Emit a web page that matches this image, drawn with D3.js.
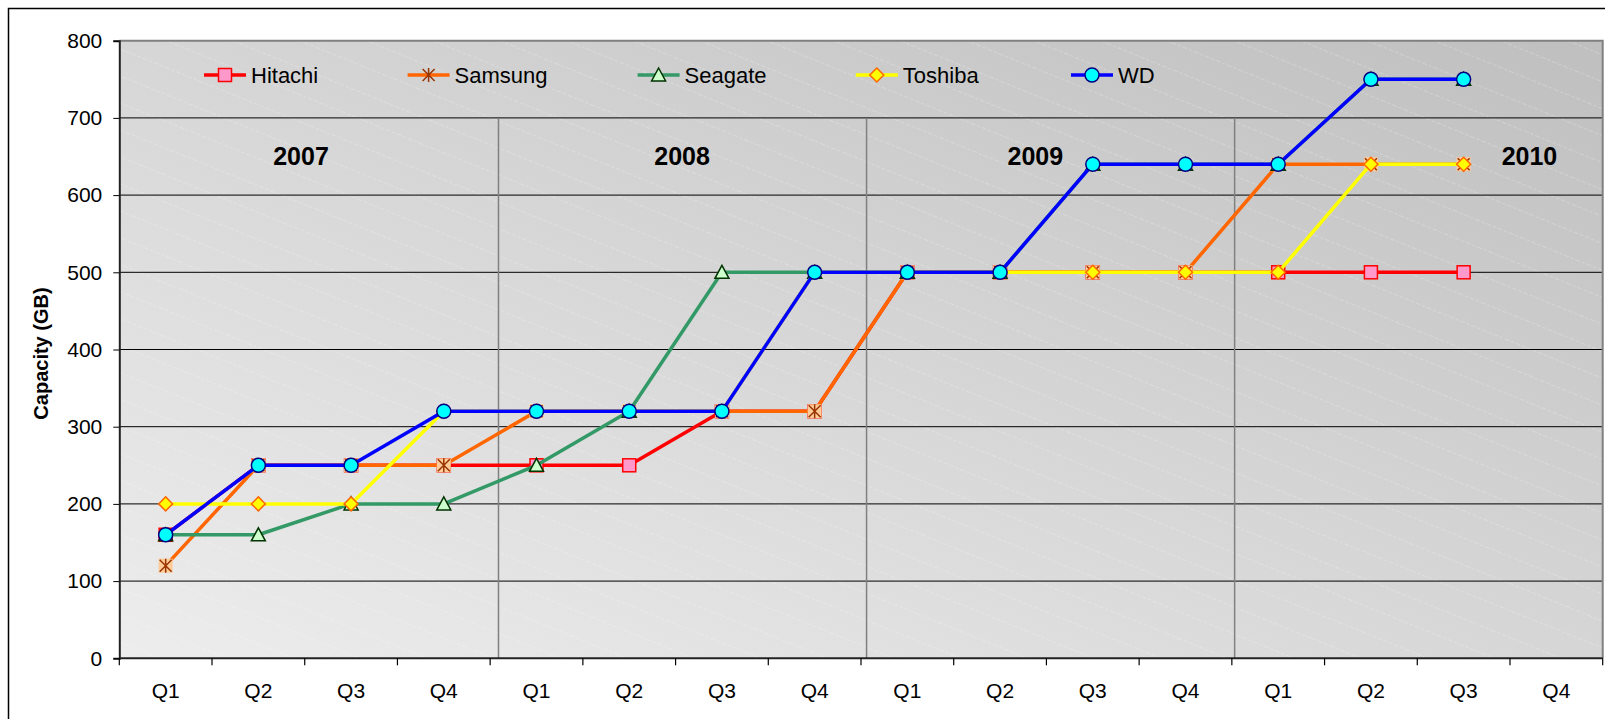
<!DOCTYPE html>
<html>
<head>
<meta charset="utf-8">
<script src="https://cdn.jsdelivr.net/npm/d3@7"></script>
<style>
  body { margin: 0; background: #fff; }
  svg { display: block; font-family: Arial, 'Liberation Sans', sans-serif; }
</style>
</head>
<body>
<svg id="chart" width="1605" height="719"></svg>
<script>
// quarters 2007 Q1 .. 2010 Q4
const quarters = ['Q1', 'Q2', 'Q3', 'Q4', 'Q1', 'Q2', 'Q3', 'Q4', 'Q1', 'Q2', 'Q3', 'Q4', 'Q1', 'Q2', 'Q3', 'Q4'];
const years = ['2007', '2008', '2009', '2010'];
// year label / separator positions in quarter units
const yearLabelAt = [1.96, 6.07, 9.88, 15.21];
const yearBreakAt = [4.09, 8.06, 12.03];
const yTicks = [0, 100, 200, 300, 400, 500, 600, 700, 800];

const hitachi = [160, 250, 250, 250, 250, 250, 320, 320, 500, 500, 500, 500, 500, 500, 500, null];
const samsung = [120, 250, 250, 250, 320, 320, 320, 320, 500, 500, 500, 500, 640, 640, 640, null];
const seagate = [160, 160, 200, 200, 250, 320, 500, 500, 500, 500, 640, 640, 640, 750, 750, null];
const toshiba = [200, 200, 200, 320, 320, 320, 320, 500, 500, 500, 500, 500, 500, 640, 640, null];
const wd = [160, 250, 250, 320, 320, 320, 320, 500, 500, 500, 640, 640, 640, 750, 750, null];

const series = [
  { name: 'Hitachi', values: hitachi, color: '#ff0000', marker: 'square', fill: '#ff99cc', stroke: '#ff0000' },
  { name: 'Samsung', values: samsung, color: '#ff6600', marker: 'star', fill: '#ffcc99', stroke: '#993300' },
  { name: 'Seagate', values: seagate, color: '#339966', marker: 'triangle', fill: '#ccffcc', stroke: '#003300' },
  { name: 'Toshiba', values: toshiba, color: '#ffff00', marker: 'diamond', fill: '#ffff00', stroke: '#ff6600' },
  { name: 'WD', values: wd, color: '#0000ff', marker: 'circle', fill: '#00ffff', stroke: '#000080' }
];

const svg = d3.select('#chart');
const pLeft = 119.3, pRight = 1602.7, pTop = 40.7, pBottom = 658.3;

const x = d3.scaleLinear().domain([0, quarters.length]).range([pLeft, pRight]);
const y = d3.scaleLinear().domain([0, 800]).range([pBottom, pTop]);

// outer chart frame
svg.append('rect')
  .attr('x', 8.5).attr('y', 8.5).attr('width', 1700).attr('height', 800)
  .attr('fill', '#fff').attr('stroke', '#000').attr('stroke-width', 1.5);

const defs = svg.append('defs');
const grad = defs.append('linearGradient').attr('id', 'bg')
  .attr('x1', 0).attr('y1', 1).attr('x2', 1).attr('y2', 0);
grad.append('stop').attr('offset', 0).attr('stop-color', '#ededed');
grad.append('stop').attr('offset', 1).attr('stop-color', '#bfbfbf');

const hatch = defs.append('pattern').attr('id', 'hatch')
  .attr('patternUnits', 'userSpaceOnUse')
  .attr('width', 12).attr('height', 25)
  .attr('patternTransform', 'rotate(22)');
hatch.append('line')
  .attr('x1', 0).attr('y1', 0.5).attr('x2', 12).attr('y2', 0.5)
  .attr('stroke', '#fff').attr('stroke-opacity', 0.28)
  .attr('stroke-width', 0.8)
  .attr('stroke-dasharray', '3,2');

svg.append('rect')
  .attr('x', pLeft).attr('y', pTop).attr('width', pRight - pLeft).attr('height', pBottom - pTop)
  .attr('fill', 'url(#bg)');
svg.append('rect')
  .attr('x', pLeft).attr('y', pTop).attr('width', pRight - pLeft).attr('height', pBottom - pTop)
  .attr('fill', 'url(#hatch)');

// horizontal gridlines
svg.append('g').selectAll('line')
  .data(yTicks.filter(d => d > 0 && d < 800))
  .join('line')
  .attr('x1', pLeft).attr('x2', pRight)
  .attr('y1', d => y(d)).attr('y2', d => y(d))
  .attr('stroke', '#000').attr('stroke-width', 1);

// year separators
svg.append('g').selectAll('line')
  .data(yearBreakAt)
  .join('line')
  .attr('x1', d => x(d)).attr('x2', d => x(d))
  .attr('y1', y(700)).attr('y2', pBottom)
  .attr('stroke', '#808080').attr('stroke-width', 1.5);

// plot border (top/right gray)
svg.append('path')
  .attr('d', `M${pLeft},${pTop}H${pRight}V${pBottom}`)
  .attr('fill', 'none').attr('stroke', '#808080').attr('stroke-width', 2);

// year labels
svg.append('g').selectAll('text')
  .data(years)
  .join('text')
  .attr('x', (d, i) => x(yearLabelAt[i]))
  .attr('y', 165)
  .attr('text-anchor', 'middle')
  .style('font-size', '25px')
  .style('font-weight', 'bold')
  .text(d => d);

// y axis
const yAxis = svg.append('g')
  .attr('transform', `translate(${pLeft},0)`)
  .call(d3.axisLeft(y).tickValues(yTicks).tickSize(6).tickPadding(11));
yAxis.select('.domain').attr('stroke', '#222').attr('stroke-width', 2);
yAxis.selectAll('.tick line').attr('stroke', '#000');
yAxis.selectAll('.tick text')
  .attr('fill', '#000')
  .style('font-size', '21px')
  .style('font-family', 'Arial, "Liberation Sans", sans-serif');

// x axis: ticks at boundaries, labels at centres
const xAxis = svg.append('g').attr('transform', `translate(0,${pBottom})`);
xAxis.append('line')
  .attr('x1', pLeft).attr('x2', pRight).attr('y1', 0).attr('y2', 0)
  .attr('stroke', '#222').attr('stroke-width', 2);
xAxis.selectAll('line.tick')
  .data(d3.range(quarters.length + 1))
  .join('line').attr('class', 'tick')
  .attr('x1', d => x(d)).attr('x2', d => x(d))
  .attr('y1', 0).attr('y2', 7)
  .attr('stroke', '#000').attr('stroke-width', 1.2);
xAxis.selectAll('text')
  .data(quarters)
  .join('text')
  .attr('x', (d, i) => x(i + 0.5))
  .attr('y', 39.5)
  .attr('text-anchor', 'middle')
  .style('font-size', '21px')
  .text(d => d);

// y label
svg.append('text')
  .attr('transform', `translate(48,${(pTop + pBottom) / 2 + 4}) rotate(-90)`)
  .attr('text-anchor', 'middle')
  .style('font-size', '20px')
  .style('font-weight', 'bold')
  .text('Capacity (GB)');

function drawMarker(g, s, cx, cy, legend) {
  if (s.marker === 'square') {
    g.append('rect').attr('x', cx - 6.5).attr('y', cy - 6.5).attr('width', 13).attr('height', 13)
      .attr('fill', s.fill).attr('stroke', s.stroke).attr('stroke-width', 1.5);
  } else if (s.marker === 'star') {
    if (!legend) {
      g.append('rect').attr('x', cx - 7).attr('y', cy - 7).attr('width', 14).attr('height', 14)
        .attr('fill', s.fill);
    }
    g.append('path')
      .attr('d', `M${cx - 6},${cy - 6}L${cx + 6},${cy + 6}M${cx + 6},${cy - 6}L${cx - 6},${cy + 6}M${cx},${cy - 7}V${cy + 7}`)
      .attr('stroke', s.stroke).attr('stroke-width', 1.5).attr('fill', 'none');
  } else if (s.marker === 'triangle') {
    g.append('path')
      .attr('d', `M${cx},${cy - 7}L${cx + 7},${cy + 6}L${cx - 7},${cy + 6}Z`)
      .attr('fill', s.fill).attr('stroke', s.stroke).attr('stroke-width', 1.5);
  } else if (s.marker === 'diamond') {
    g.append('path')
      .attr('d', `M${cx},${cy - 7}L${cx + 7},${cy}L${cx},${cy + 7}L${cx - 7},${cy}Z`)
      .attr('fill', s.fill).attr('stroke', s.stroke).attr('stroke-width', 1.5);
  } else {
    g.append('circle').attr('cx', cx).attr('cy', cy).attr('r', 7)
      .attr('fill', s.fill).attr('stroke', s.stroke).attr('stroke-width', 1.5);
  }
}

const line = d3.line()
  .defined(d => d != null)
  .x((d, i) => x(i + 0.5))
  .y(d => y(d));

series.forEach(s => {
  const g = svg.append('g');
  g.append('path')
    .attr('d', line(s.values))
    .attr('fill', 'none')
    .attr('stroke', s.color)
    .attr('stroke-width', 3.5)
    .attr('stroke-linejoin', 'round');
  s.values.forEach((v, i) => {
    if (v != null) drawMarker(g, s, x(i + 0.5), y(v), false);
  });
});

// legend
const legendX = [225, 428.6, 658.6, 876.8, 1092];
const legendY = 75;
series.forEach((s, i) => {
  const g = svg.append('g');
  const cx = legendX[i];
  g.append('line')
    .attr('x1', cx - 21).attr('x2', cx + 21).attr('y1', legendY).attr('y2', legendY)
    .attr('stroke', s.color).attr('stroke-width', 3.5);
  drawMarker(g, s, cx, legendY, true);
  g.append('text')
    .attr('x', cx + 26).attr('y', legendY + 8)
    .style('font-size', '22px')
    .text(s.name);
});
</script>
</body>
</html>
